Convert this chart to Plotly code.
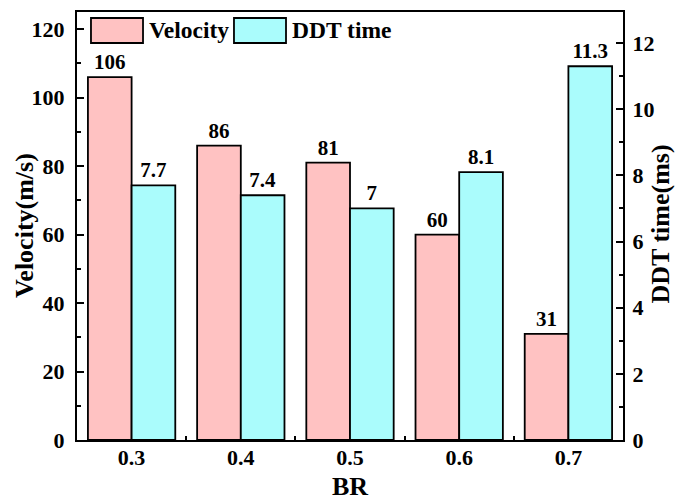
import plotly.graph_objects as go

categories = ["0.3", "0.4", "0.5", "0.6", "0.7"]
velocity = [106, 86, 81, 60, 31]
ddt_time = [7.7, 7.4, 7.0, 8.1, 11.3]
velocity_labels = ["106", "86", "81", "60", "31"]
ddt_labels = ["7.7", "7.4", "7", "8.1", "11.3"]

PINK = "#FFC2C2"
CYAN = "#AAFCFC"
FONT = "Liberation Serif"

labelfont = dict(family=FONT, size=21, color="black", weight="bold")

fig = go.Figure()
fig.add_trace(go.Bar(
    x=categories, y=velocity, name="Velocity", yaxis="y",
    offsetgroup="v", marker=dict(color=PINK, line=dict(color="black", width=1.8)),
    text=velocity_labels, textposition="outside", constraintext="none",
    textfont=labelfont, cliponaxis=False, showlegend=False,
))
fig.add_trace(go.Bar(
    x=categories, y=ddt_time, name="DDT time", yaxis="y2",
    offsetgroup="d", marker=dict(color=CYAN, line=dict(color="black", width=1.8)),
    text=ddt_labels, textposition="outside", constraintext="none",
    textfont=labelfont, cliponaxis=False, showlegend=False,
))

tickfont = dict(family=FONT, size=22, color="black", weight="bold")
titlefont = dict(family=FONT, size=26, color="black", weight="bold")

fig.update_layout(
    width=675, height=497,
    margin=dict(l=77, r=52, t=12, b=57),
    paper_bgcolor="white", plot_bgcolor="white",
    barmode="group", bargap=0.2, bargroupgap=0,
    xaxis=dict(
        type="category", range=[-0.5, 4.5], automargin=False,
        showline=True, linecolor="black", linewidth=2, mirror=True,
        ticks="inside", tickson="boundaries", ticklen=4, tickwidth=2, tickcolor="black",
        tickfont=tickfont, showgrid=False, zeroline=False, ticklabelstandoff=-3,
    ),
    yaxis=dict(
        range=[0, 125], tickvals=[0, 20, 40, 60, 80, 100, 120], automargin=False,
        showline=True, linecolor="black", linewidth=2,
        ticks="inside", ticklen=7, tickwidth=2, tickcolor="black",
        minor=dict(ticks="inside", ticklen=4, tickwidth=2, tickcolor="black", tickvals=[10, 30, 50, 70, 90, 110]),
        tickfont=tickfont, showgrid=False, zeroline=False, ticklabelstandoff=6,
    ),
    yaxis2=dict(
        range=[0, 12.94], tickvals=[0, 2, 4, 6, 8, 10, 12], automargin=False,
        overlaying="y", side="right", anchor="x",
        showline=True, linecolor="black", linewidth=2,
        ticks="inside", ticklen=7, tickwidth=2, tickcolor="black",
        minor=dict(ticks="inside", ticklen=4, tickwidth=2, tickcolor="black", tickvals=[1, 3, 5, 7, 9, 11]),
        tickfont=tickfont, showgrid=False, zeroline=False, ticklabelstandoff=3,
    ),
)

# axis titles
fig.add_annotation(xref="paper", yref="paper", x=0.5, y=-0.1075, text="BR", showarrow=False,
                   xanchor="center", yanchor="middle", font=titlefont)
fig.add_annotation(xref="paper", yref="paper", x=-0.097, y=0.5, text="Velocity(m/s)", showarrow=False,
                   textangle=-90, xanchor="center", yanchor="middle", font=titlefont)
fig.add_annotation(xref="paper", yref="paper", x=1.069, y=0.505, text="DDT time(ms)", showarrow=False,
                   textangle=-90, xanchor="center", yanchor="middle", font=titlefont)

# custom legend
legend_items = [("Velocity", PINK, 0.0256, 0.1209), ("DDT time", CYAN, 0.2875, 0.3828)]
for name, color, x0, x1 in legend_items:
    fig.add_shape(type="rect", xref="paper", yref="paper", x0=x0, x1=x1, y0=0.9276, y1=0.986,
                  fillcolor=color, line=dict(color="black", width=1.8))
    fig.add_annotation(xref="paper", yref="paper", x=x1 + 0.008, y=0.9568, text=name,
                       showarrow=False, xanchor="left", yanchor="middle",
                       font=dict(family=FONT, size=23.5, color="black", weight="bold"))

fig.write_html("out.html")
